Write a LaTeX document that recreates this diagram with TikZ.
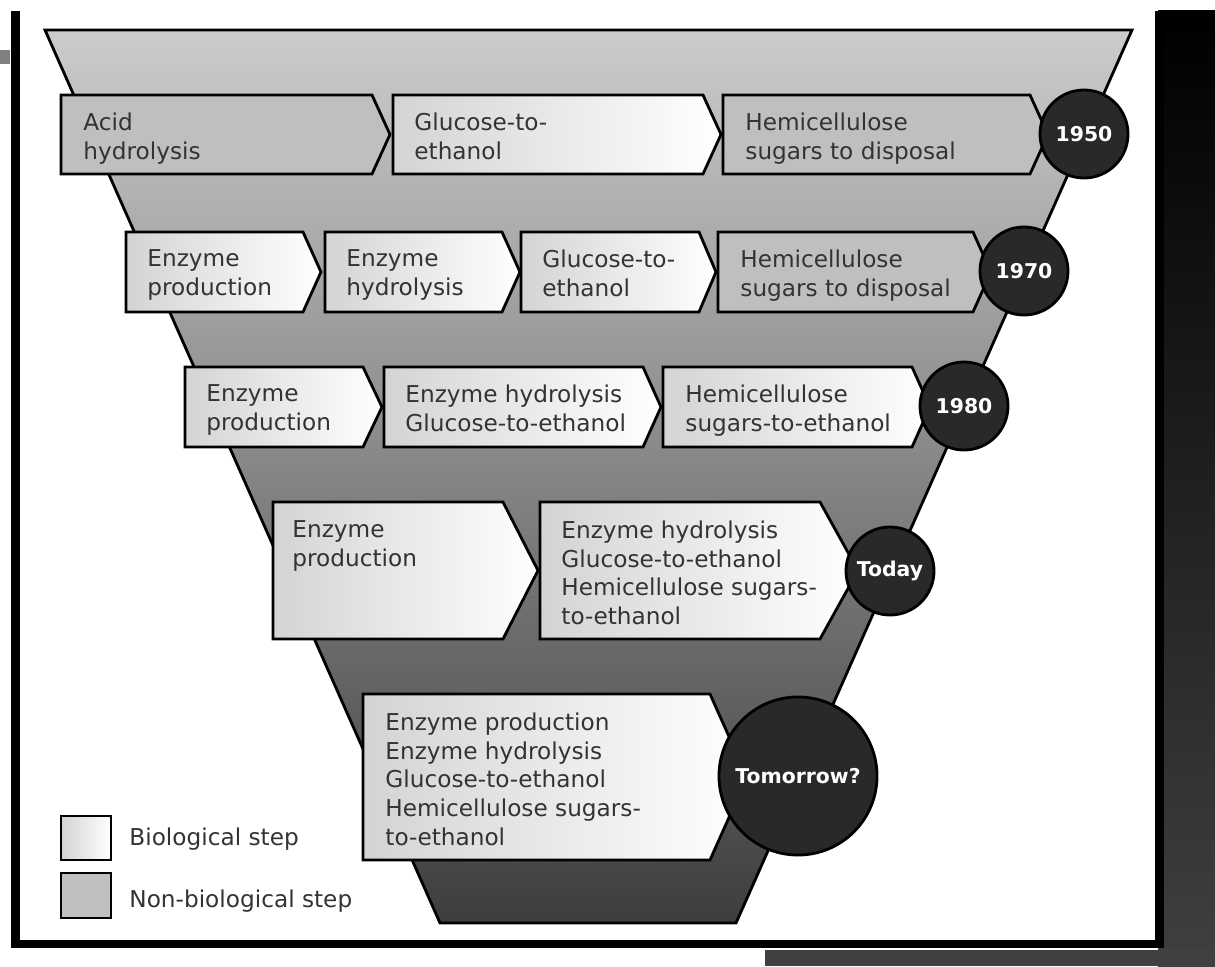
\documentclass[tikz,border=0pt]{standalone}
\usepackage{fontspec}
\setmainfont{DejaVu Sans}
\usepackage{tikz}

\begin{document}
\begin{tikzpicture}[x=0.025cm,y=-0.025cm,line width=2pt,line join=miter]
\tikzstyle{funnel}=[draw=black,top color=black!20,bottom color=black!76]
\tikzstyle{bio}=[draw=black,left color=black!17,right color=white]
\tikzstyle{nonbio}=[draw=black,fill=black!25]
\tikzstyle{lbl}=[anchor=north west,inner sep=0pt,align=left,text=black!80,font=\fontsize{16.5}{20.6}\selectfont]
\tikzstyle{year}=[circle,draw=black,fill=black!84,text=white,inner sep=0pt,minimum size=2.2cm,font=\bfseries\fontsize{14.5}{16}\selectfont]
\useasboundingbox (0,0) rectangle (1215,966);
\fill[top color=black,bottom color=black!75] (1158,11) rectangle (1215,966);
\fill[black!75] (765,950) rectangle (1215,966);
\fill[black!50] (0,50) rectangle (10,64);
\draw[line width=6pt] (15.5,11) -- (15.5,944) -- (1159.5,944) -- (1159.5,11);
\path[funnel] (45,30) -- (1132,30) -- (736,923) -- (440,923) -- cycle;

\path[nonbio] (61,95) -- (372,95) -- (390,134.5) -- (372,174) -- (61,174) -- cycle;
\path[bio] (393,95) -- (703,95) -- (721,134.5) -- (703,174) -- (393,174) -- cycle;
\path[nonbio] (723,95) -- (1030,95) -- (1048,134.5) -- (1030,174) -- (723,174) -- cycle;

\path[bio] (126,232) -- (303,232) -- (321,272) -- (303,312) -- (126,312) -- cycle;
\path[bio] (325,232) -- (502,232) -- (520,272) -- (502,312) -- (325,312) -- cycle;
\path[bio] (521,232) -- (699,232) -- (716,272) -- (699,312) -- (521,312) -- cycle;
\path[nonbio] (718,232) -- (973,232) -- (991,272) -- (973,312) -- (718,312) -- cycle;

\path[bio] (185,367) -- (363,367) -- (382,407) -- (363,447) -- (185,447) -- cycle;
\path[bio] (384,367) -- (643,367) -- (661,407) -- (643,447) -- (384,447) -- cycle;
\path[bio] (663,367) -- (912,367) -- (930,407) -- (912,447) -- (663,447) -- cycle;

\path[bio] (273,502) -- (503,502) -- (538,570.5) -- (503,639) -- (273,639) -- cycle;
\path[bio] (540,502) -- (820,502) -- (858,570.5) -- (820,639) -- (540,639) -- cycle;

\path[bio] (363,694) -- (710,694) -- (747,777) -- (710,860) -- (363,860) -- cycle;

\node[year] (y1950) at (1084,134) {1950};
\node[year] (y1970) at (1024,271) {1970};
\node[year] (y1980) at (964,406) {1980};
\node[year] (today) at (890,571) {Today};
\node[year,minimum size=3.95cm] (tomorrow) at (798,776) {Tomorrow?};

\node[lbl] (acid) at (82,111) {Acid\\hydrolysis};
\node[lbl] (glu1) at (413,111) {Glucose-to-\\ethanol};
\node[lbl] (hemi1) at (744,111) {Hemicellulose\\sugars to disposal};

\node[lbl] (enzp2) at (146,248) {Enzyme\\production};
\node[lbl] (enzh2) at (345,248) {Enzyme\\hydrolysis};
\node[lbl] (glu2) at (541,248) {Glucose-to-\\ethanol};
\node[lbl] (hemi2) at (739,248) {Hemicellulose\\sugars to disposal};

\node[lbl] (enzp3) at (205,383) {Enzyme\\production};
\node[lbl] (enzh3) at (404,383) {Enzyme hydrolysis\\Glucose-to-ethanol};
\node[lbl] (hemi3) at (684,383) {Hemicellulose\\sugars-to-ethanol};

\node[lbl] (enzp4) at (291,519) {Enzyme\\production};
\node[lbl] (rest4) at (560,519) {Enzyme hydrolysis\\Glucose-to-ethanol\\Hemicellulose sugars-\\to-ethanol};

\node[lbl] (all5) at (384,711) {Enzyme production\\Enzyme hydrolysis\\Glucose-to-ethanol\\Hemicellulose sugars-\\to-ethanol};

\path[bio] (61,816) rectangle (111,860);
\path[nonbio] (61,873) rectangle (111,918);
\node[lbl,anchor=base west] (kbio) at (128,845) {Biological step};
\node[lbl,anchor=base west] (knon) at (128,907) {Non-biological step};
\end{tikzpicture}
\end{document}
